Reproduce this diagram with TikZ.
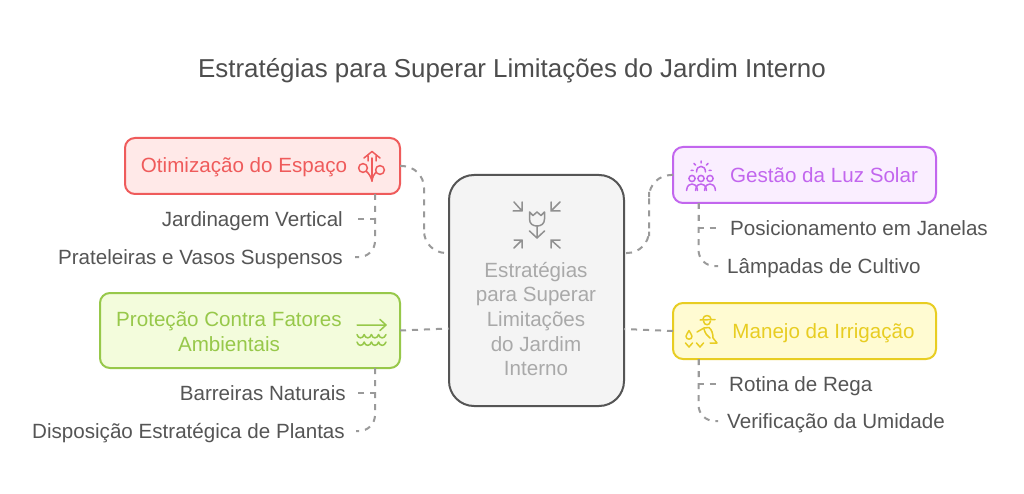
\documentclass[tikz,border=0pt]{standalone}
\usepackage{fontspec}
\setmainfont{Liberation Sans}
\definecolor{inkTitle}{HTML}{4D4D4D}
\definecolor{inkSub}{HTML}{555555}
\definecolor{linkGray}{HTML}{9A9A9A}
\definecolor{redInk}{HTML}{EF5B5B}
\definecolor{redFill}{HTML}{FFE9E8}
\definecolor{purpleInk}{HTML}{C266EE}
\definecolor{purpleFill}{HTML}{FAEEFF}
\definecolor{yellowInk}{HTML}{E8CD22}
\definecolor{yellowFill}{HTML}{FFFBD2}
\definecolor{greenInk}{HTML}{97C84A}
\definecolor{greenFill}{HTML}{F3FCDC}
\definecolor{hubFill}{HTML}{F4F4F4}
\definecolor{hubEdge}{HTML}{555555}
\definecolor{hubInk}{HTML}{A9A9A9}
\tikzset{
  x=1pt,y=-1pt,
  box/.style={draw=#1Ink,fill=#1Fill,line width=2pt,rounded corners=10pt,outer sep=0pt,inner sep=0pt},
  heading/.style={text=#1Ink,font=\fontsize{20.6}{24.7}\selectfont,inner sep=0pt,align=center},
  subitem/.style={text=inkSub,font=\fontsize{20.6}{24}\selectfont,text height=15pt,text depth=0pt,inner ysep=0pt,inner xsep=#1},
  faritem/.style={text height=15pt},
  link/.style={draw=linkGray,line width=2pt,dash pattern=on 6pt off 6pt},
  glyph/.style={draw=#1,line width=1.5pt,line cap=round,line join=round,fill=none}
}
\begin{document}
\begin{tikzpicture}
\useasboundingbox (0,0) rectangle (1024,494);
\fill[white] (0,0) rectangle (1024,494);

\node[text=inkTitle,font=\fontsize{25.9}{30}\selectfont,inner sep=0pt,anchor=base] (title) at (512,78) {Estratégias para Superar Limitações do Jardim Interno};

% central hub and the four topic boxes
\node[draw=hubEdge,fill=hubFill,line width=2pt,rounded corners=25pt,outer sep=0pt,minimum width=175pt,minimum height=231pt] (hub) at (536.5,290.5) {};
\node[box=red,minimum width=275pt,minimum height=56pt] (space) at (262.5,166) {};
\node[box=green,minimum width=300pt,minimum height=75pt] (protect) at (250,330.5) {};
\node[box=purple,minimum width=263pt,minimum height=56pt] (light) at (804.5,175) {};
\node[box=yellow,minimum width=263pt,minimum height=56pt] (water) at (804.5,331) {};

\node[text=hubInk,font=\fontsize{20.6}{24.7}\selectfont,align=center,inner sep=0pt] (hubtext) at (536,319) {Estratégias\\para Superar\\Limitações\\do Jardim\\Interno};
\node[heading=red,anchor=base] (spacetext) at (244,173) {Otimização do Espaço};
\node[heading=green] (protecttext) at (229,331.5) {Proteção Contra Fatores\\Ambientais};
\node[heading=purple,anchor=base] (lighttext) at (824,182.5) {Gestão da Luz Solar};
\node[heading=yellow,anchor=base] (watertext) at (823.5,338) {Manejo da Irrigação};

% sub-items
\node[subitem=12pt,anchor=east] (vertical) at (355,219) {Jardinagem Vertical};
\node[subitem=12pt,anchor=east,faritem] (shelves) at (355,257) {Prateleiras e Vasos Suspensos};
\node[subitem=10pt,anchor=east] (barriers) at (356,393) {Barreiras Naturais};
\node[subitem=11pt,anchor=east,faritem] (layout) at (356,431) {Disposição Estratégica de Plantas};
\node[subitem=12pt,anchor=west] (windows) at (718,228) {Posicionamento em Janelas};
\node[subitem=9pt,anchor=west,faritem] (lamps) at (718,266) {Lâmpadas de Cultivo};
\node[subitem=11pt,anchor=west] (routine) at (718,384) {Rotina de Rega};
\node[subitem=9pt,anchor=west,faritem] (moisture) at (718,421) {Verificação da Umidade};

% attachment points on the box edges
\coordinate (hubUL) at (449,253);
\coordinate (hubUR) at (624,253);
\coordinate (hubLL) at (449,328.5);
\coordinate (hubLR) at (624,329);
\coordinate (busL) at (424,210);
\coordinate (busR) at (649,214);
\coordinate (stemSpace) at (375,194);
\coordinate (stemProtect) at (375,368);
\coordinate (stemLight) at (698.5,203);
\coordinate (stemWater) at (698.5,359);

% hub connectors
\draw[link,rounded corners=22pt] (space.east) -| (busL) |- (hubUL);
\draw[link,rounded corners=22pt] (light.west) -| (busR) |- (hubUR);
\draw[link] (protect.east) -- (hubLL);
\draw[link] (water.west) -- (hubLR);

% sub-item connectors
\foreach \stem/\near/\far in {stemSpace/vertical/shelves,stemProtect/barriers/layout}{
  \draw[link] (\stem) |- (\near.east);
  \draw[link,rounded corners=16pt] (\stem) |- (\far.east);
}
\foreach \stem/\near/\far in {stemLight/windows/lamps,stemWater/routine/moisture}{
  \draw[link] (\stem) |- (\near.west);
  \draw[link,rounded corners=16pt] (\stem) |- (\far.west);
}

% tulip with inward arrows
\begin{scope}[glyph=hubInk!85!black]
  \draw (514,202) -- (522,211) (513,211) -- (522,211) -- (522,202);
  \draw (560,202) -- (551,211) (560,211) -- (551,211) -- (551,202);
  \draw (514,248) -- (522,240) (514,240) -- (522,240) -- (522,248);
  \draw (560,248) -- (551,240) (560,240) -- (551,240) -- (551,248);
  \draw (529.5,212) -- (533,215.5) -- (537,212) -- (541,215.5) -- (544.5,212) -- (544.5,219) .. controls (544.5,224) and (541,226) .. (537,226) .. controls (533,226) and (529.5,224) .. (529.5,219) -- cycle;
  \draw (537,226) -- (537,238) (529.5,231) -- (537,238) -- (544.5,231);
\end{scope}

% shelf plant
\begin{scope}[glyph=redInk]
  \draw (364,158) -- (372,151.5) -- (380,158) (368,156) -- (368,161) (376,156) -- (376,161);
  \draw (372,158) -- (372,181);
  \draw (363,168) circle (4.4) (380,170) circle (4.4);
  \draw (372,181) .. controls (371,177) and (369,173.5) .. (366.5,171.5);
  \draw (372,181) .. controls (372.5,177) and (374,174) .. (376,172);
\end{scope}

% arrow over water
\begin{scope}[glyph=greenInk]
  \draw (357,325) -- (386,325) (380,319.5) -- (386,325) -- (380,330.5);
  \foreach \wy in {334.5,342}{
    \draw (357,\wy) .. controls (358,\wy+4.5) and (363,\wy+4.5) .. (364.2,\wy)
      .. controls (365.2,\wy+4.5) and (370.2,\wy+4.5) .. (371.4,\wy)
      .. controls (372.4,\wy+4.5) and (377.4,\wy+4.5) .. (378.6,\wy)
      .. controls (379.6,\wy+4.5) and (384.6,\wy+4.5) .. (386,\wy);
  }
\end{scope}

% sun over three people
\begin{scope}[glyph=purpleInk]
  \draw (696.5,172) .. controls (696.5,164.5) and (705.5,164.5) .. (705.5,172);
  \draw (701,161) -- (701,163) (694,163.5) -- (695.5,165) (708,163.5) -- (706.5,165) (691,170.5) -- (693,170.5) (709,170.5) -- (711,170.5);
  \foreach \px in {692,701,710}{
    \draw (\px,178.5) circle (3.1);
    \draw (\px-5.5,190.5) .. controls (\px-5,185) and (\px-2,184) .. (\px,184) .. controls (\px+2,184) and (\px+5,185) .. (\px+5.5,190.5);
  }
\end{scope}

% gardener with drop and sprouts
\begin{scope}[glyph=yellowInk]
  \draw (700,320) -- (715,319.5);
  \draw (703,319) .. controls (703,314.5) and (711,314.5) .. (711,319);
  \draw (703.5,321) .. controls (704,326) and (710,326) .. (710.5,321);
  \draw (697,332) -- (704,328) -- (709,327.5) .. controls (712,330) and (713,334) .. (713,338) -- (717,343) -- (710,343);
  \draw (704,329) .. controls (705,333) and (707,336) .. (710,338);
  \draw (689,330.5) .. controls (687,334) and (686,335.5) .. (686,336.5) .. controls (686,340) and (692,340) .. (692,336.5) .. controls (692,335.5) and (691,334) .. (689,330.5) -- cycle;
  \draw (685.5,343) -- (689,347) -- (692.5,343) (696.5,343) -- (700,347) -- (703.5,343);
\end{scope}
\end{tikzpicture}
\end{document}
